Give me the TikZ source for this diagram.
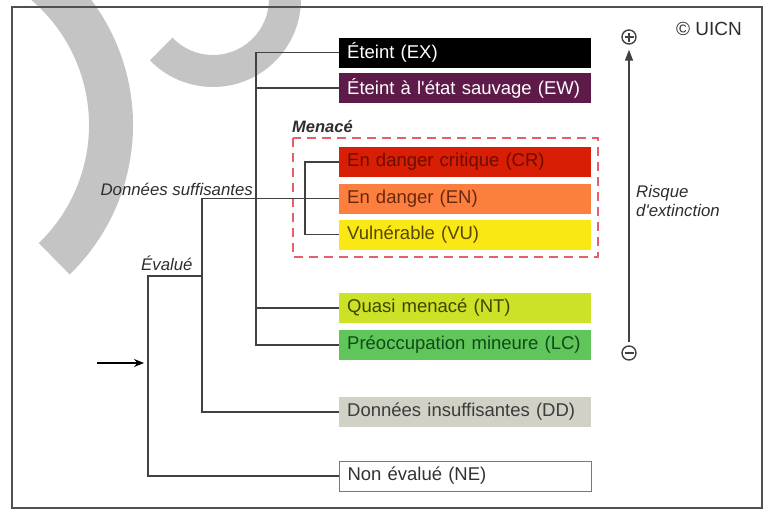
\documentclass[tikz,border=0pt]{standalone}
\usepackage{fontspec}
\setmainfont{Liberation Sans}
\usetikzlibrary{arrows.meta}
\definecolor{wmC}{RGB}{196,196,196}
\definecolor{frameC}{RGB}{80,80,80}
\definecolor{lineC}{RGB}{65,65,65}
\definecolor{labC}{RGB}{45,45,45}
\definecolor{exF}{RGB}{0,0,0}
\definecolor{ewF}{RGB}{94,27,74}
\definecolor{crF}{RGB}{216,30,5}
\definecolor{crT}{RGB}{110,12,0}
\definecolor{enF}{RGB}{252,127,63}
\definecolor{enT}{RGB}{105,40,10}
\definecolor{vuF}{RGB}{249,232,20}
\definecolor{vuT}{RGB}{85,70,0}
\definecolor{ntF}{RGB}{204,226,38}
\definecolor{ntT}{RGB}{60,70,0}
\definecolor{lcF}{RGB}{96,198,89}
\definecolor{lcT}{RGB}{15,75,25}
\definecolor{ddF}{RGB}{209,209,198}
\definecolor{ddT}{RGB}{60,60,60}
\definecolor{neD}{RGB}{120,120,120}
\definecolor{neT}{RGB}{50,50,50}
\definecolor{menC}{RGB}{228,95,105}
\begin{document}
\begin{tikzpicture}[x=1pt,y=-1pt,
  cat/.style={minimum height=30pt, text width=236pt, inner xsep=8pt, inner ysep=0pt,
    align=left, anchor=west, font=\fontsize{18.5}{21}\selectfont},
  conn/.style={draw=lineC, line width=1.2pt},
  lab/.style={font=\fontsize{16.8}{19}\selectfont\itshape, text=labC, inner sep=0pt},
  pm/.style={circle, draw=lineC, line width=1.4pt, minimum size=14pt, inner sep=0pt}]
\useasboundingbox (0,0) rectangle (769,514);
% watermark
\begin{scope}
\clip (0,0) rectangle (769,514);
\draw[wmC, line width=44pt] (-138.6,-49.8) arc[start angle=-110, end angle=46, radius=186];
\draw[wmC, line width=32pt] (161.2,49.0) arc[start angle=136, end angle=-70, radius=72];
\end{scope}
% frame
\draw[frameC, line width=1.5pt] (12,7) rectangle (762,508);
% threatened group
\draw[menC, line width=1.6pt, dash pattern=on 9pt off 6pt] (293,138) rectangle (598,257);
\node[lab, anchor=west, font=\fontsize{16.5}{19}\selectfont\bfseries\itshape] (men) at (292,127) {Menacé};
% categories
\node[cat, fill=exF, text=white] (EX) at (339,52.5) {Éteint (EX)};
\node[cat, fill=ewF, text=white] (EW) at (339,88) {Éteint à l\textquotesingle état sauvage (EW)};
\node[cat, fill=crF, text=crT] (CR) at (339,162) {En danger critique (CR)};
\node[cat, fill=enF, text=enT] (EN) at (339,198.5) {En danger (EN)};
\node[cat, fill=vuF, text=vuT] (VU) at (339,234.5) {Vulnérable (VU)};
\node[cat, fill=ntF, text=ntT] (NT) at (339,308) {Quasi menacé (NT)};
\node[cat, fill=lcF, text=lcT] (LC) at (339,345) {Préoccupation mineure (LC)};
\node[cat, fill=ddF, text=ddT] (DD) at (339,412) {Données insuffisantes (DD)};
\node[cat, fill=white, draw=neD, line width=1pt, text=neT] (NE) at (339,476) {Non évalué (NE)};
% tree
\coordinate (cA) at (256,0);
\coordinate (cB) at (305,0);
\coordinate (cC) at (202,0);
\coordinate (cD) at (148,0);
\coordinate (evR) at (202,276);
\coordinate (evL) at (148,276);
\draw[conn] (EX.west) -- (EX.west -| cA) -- (LC.west -| cA) -- (LC.west);
\draw[conn] (EW.west) -- (EW.west -| cA);
\draw[conn] (NT.west) -- (NT.west -| cA);
\draw[conn] (CR.west) -- (CR.west -| cB) -- (VU.west -| cB) -- (VU.west);
\draw[conn] (EN.west) -- (EN.west -| cC) -- (DD.west -| cC) -- (DD.west);
\draw[conn] (evR) -- (evL) -- (NE.west -| cD) -- (NE.west);
% entry arrow
\coordinate (inS) at (97,363);
\coordinate (inE) at (144,363);
\draw[black, line width=1.2pt, -{Stealth[length=10pt,width=8pt]}] (inS) -- (inE);
% labels
\node[lab, anchor=east] (ds) at (253,189) {Données suffisantes};
\node[lab, anchor=west] (ev) at (141,263) {Évalué};
% risk axis
\node[pm] (plus) at (629,37) {};
\draw[lineC, line width=1.4pt] ([xshift=-4.5pt]plus.center) -- ([xshift=4.5pt]plus.center)
  ([yshift=-4.5pt]plus.center) -- ([yshift=4.5pt]plus.center);
\node[pm] (minus) at (629,353) {};
\draw[lineC, line width=1.4pt] ([xshift=-4.5pt]minus.center) -- ([xshift=4.5pt]minus.center);
\draw[lineC, line width=1.5pt, -{Triangle[length=11pt,width=8pt]}, shorten >=5pt, shorten <=3pt] (minus.north) -- (plus.south);
\node[lab, anchor=west, align=left] (risk) at (636,201) {Risque\\d\textquotesingle extinction};
\node[anchor=west, inner sep=0pt, font=\fontsize{19}{22}\selectfont, text=labC] (uicn) at (676,29) {© UICN};
\end{tikzpicture}
\end{document}
